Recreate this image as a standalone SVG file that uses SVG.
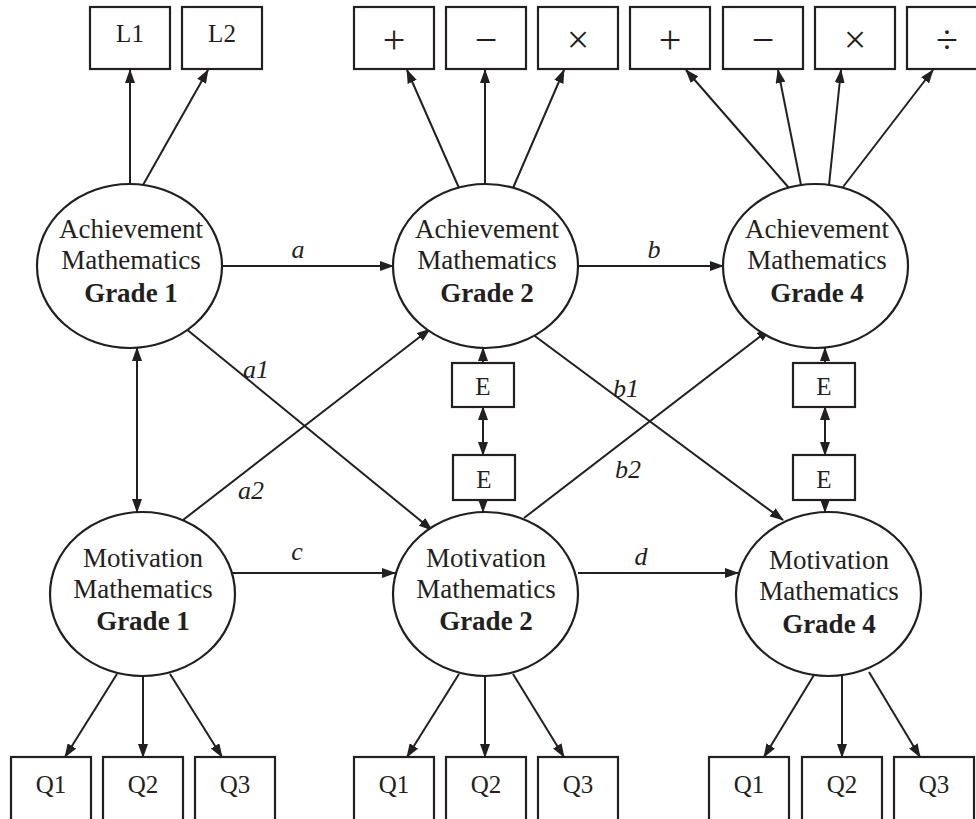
<svg xmlns="http://www.w3.org/2000/svg" width="976" height="819" viewBox="0 0 976 819">
<defs>
<style>
.box{fill:#fff;stroke:#231f20;stroke-width:2.2}
.ell{fill:#fff;stroke:#231f20;stroke-width:2.2}
.t{font-family:"Liberation Serif","Times New Roman",serif;font-size:27px;fill:#231f20;text-anchor:middle}
.b{font-weight:bold}
.bt{font-family:"Liberation Serif","Times New Roman",serif;font-size:25px;fill:#231f20;text-anchor:middle}
.sym{font-family:"Liberation Serif","Times New Roman",serif;font-size:40px;fill:#231f20;text-anchor:middle}
.lab{font-family:"Liberation Serif","Times New Roman",serif;font-size:26px;font-style:italic;fill:#231f20;text-anchor:middle}
.c line{stroke:#231f20;stroke-width:2;marker-end:url(#ah)}
.c line.dbl{marker-start:url(#ah)}
</style>
<marker id="ah" markerWidth="14" markerHeight="10" refX="13" refY="5" orient="auto-start-reverse" markerUnits="userSpaceOnUse">
<path d="M0,0 L14,5 L0,10 z" fill="#231f20"/>
</marker>
</defs>
<rect width="976" height="819" fill="#fff"/>

<g id="connectors" class="c">
<line x1="130" y1="184" x2="130" y2="70"/>
<line x1="143" y1="185" x2="208" y2="70"/>
<line x1="459" y1="188" x2="407" y2="70"/>
<line x1="485" y1="184" x2="485" y2="70"/>
<line x1="513" y1="188" x2="564" y2="70"/>
<line x1="789" y1="188" x2="686" y2="70"/>
<line x1="801" y1="185" x2="778" y2="70"/>
<line x1="829" y1="185" x2="841" y2="70"/>
<line x1="843" y1="187" x2="933" y2="70"/>
<line x1="222" y1="266" x2="393" y2="266"/>
<line x1="578" y1="266" x2="723" y2="266"/>
<line x1="232" y1="573" x2="395" y2="573"/>
<line x1="578" y1="573" x2="738" y2="573"/>
<line class="dbl" x1="137" y1="348" x2="137" y2="512"/>
<line x1="185" y1="328" x2="432" y2="530"/>
<line x1="183" y1="520" x2="430" y2="329"/>
<line x1="524" y1="328" x2="783" y2="520"/>
<line x1="524" y1="518" x2="770" y2="329"/>
<line x1="483" y1="363" x2="483" y2="348"/>
<line class="dbl" x1="483" y1="407" x2="483" y2="455"/>
<line x1="483" y1="500" x2="483" y2="512"/>
<line x1="825" y1="363" x2="825" y2="348"/>
<line class="dbl" x1="825" y1="407" x2="825" y2="455"/>
<line x1="825" y1="500" x2="825" y2="512"/>
<line x1="117" y1="674" x2="65" y2="757"/>
<line x1="143" y1="676" x2="143" y2="757"/>
<line x1="170" y1="674" x2="222" y2="757"/>
<line x1="459" y1="674" x2="407" y2="757"/>
<line x1="485" y1="676" x2="485" y2="757"/>
<line x1="513" y1="674" x2="564" y2="757"/>
<line x1="814" y1="675" x2="764" y2="757"/>
<line x1="842" y1="676" x2="842" y2="757"/>
<line x1="869" y1="672" x2="920" y2="757"/>
</g>

<g id="labels">
<text class="lab" x="298" y="258">a</text>
<text class="lab" x="654" y="258">b</text>
<text class="lab" x="297" y="560">c</text>
<text class="lab" x="641" y="565">d</text>
<text class="lab" x="256" y="378">a1</text>
<text class="lab" x="251" y="499">a2</text>
<text class="lab" x="626" y="397">b1</text>
<text class="lab" x="628" y="478">b2</text>
</g>

<g id="L1"><rect class="box" x="90" y="7" width="80" height="62"/><text class="bt" x="130" y="42">L1</text></g>
<g id="L2"><rect class="box" x="182" y="7" width="80" height="62"/><text class="bt" x="222" y="42">L2</text></g>
<g id="plus2"><rect class="box" x="354" y="7" width="80" height="62"/><text class="sym" x="394" y="53">+</text></g>
<g id="minus2"><rect class="box" x="446" y="7" width="80" height="62"/><text class="sym" x="486" y="53">−</text></g>
<g id="times2"><rect class="box" x="538" y="7" width="80" height="62"/><text class="sym" x="578" y="53">×</text></g>
<g id="plus4"><rect class="box" x="630" y="7" width="80" height="62"/><text class="sym" x="670" y="53">+</text></g>
<g id="minus4"><rect class="box" x="723" y="7" width="80" height="62"/><text class="sym" x="763" y="53">−</text></g>
<g id="times4"><rect class="box" x="815" y="7" width="80" height="62"/><text class="sym" x="855" y="53">×</text></g>
<g id="div4"><rect class="box" x="907" y="7" width="80" height="62"/><text class="sym" x="947" y="53">÷</text></g>

<g id="ach1"><ellipse class="ell" cx="129.5" cy="266" rx="92.5" ry="82"/>
<text class="t" x="131" y="238">Achievement</text><text class="t" x="131" y="269">Mathematics</text><text class="t b" x="131" y="302">Grade 1</text></g>
<g id="ach2"><ellipse class="ell" cx="485.5" cy="266" rx="92.5" ry="82"/>
<text class="t" x="487" y="238">Achievement</text><text class="t" x="487" y="269">Mathematics</text><text class="t b" x="487" y="302">Grade 2</text></g>
<g id="ach4"><ellipse class="ell" cx="815.5" cy="266" rx="92.5" ry="82"/>
<text class="t" x="817" y="238">Achievement</text><text class="t" x="817" y="269">Mathematics</text><text class="t b" x="817" y="302">Grade 4</text></g>

<g id="mot1"><ellipse class="ell" cx="142.5" cy="594" rx="92.5" ry="82"/>
<text class="t" x="143" y="567">Motivation</text><text class="t" x="143" y="598">Mathematics</text><text class="t b" x="143" y="630">Grade 1</text></g>
<g id="mot2"><ellipse class="ell" cx="485.5" cy="594" rx="92.5" ry="82"/>
<text class="t" x="486" y="567">Motivation</text><text class="t" x="486" y="598">Mathematics</text><text class="t b" x="486" y="630">Grade 2</text></g>
<g id="mot4"><ellipse class="ell" cx="828.5" cy="594" rx="92.5" ry="82"/>
<text class="t" x="829" y="569">Motivation</text><text class="t" x="829" y="600">Mathematics</text><text class="t b" x="829" y="633">Grade 4</text></g>

<g id="E2a"><rect class="box" x="452" y="363" width="62" height="44"/><text class="bt" x="483" y="395">E</text></g>
<g id="E2b"><rect class="box" x="453" y="455" width="62" height="45"/><text class="bt" x="484" y="488">E</text></g>
<g id="E4a"><rect class="box" x="793" y="363" width="62" height="44"/><text class="bt" x="824" y="395">E</text></g>
<g id="E4b"><rect class="box" x="793" y="455" width="62" height="45"/><text class="bt" x="824" y="488">E</text></g>

<g id="Q1a"><rect class="box" x="11" y="757" width="80" height="66"/><text class="bt" x="51" y="793">Q1</text></g>
<g id="Q2a"><rect class="box" x="103" y="757" width="80" height="66"/><text class="bt" x="143" y="793">Q2</text></g>
<g id="Q3a"><rect class="box" x="195" y="757" width="80" height="66"/><text class="bt" x="235" y="793">Q3</text></g>
<g id="Q1b"><rect class="box" x="354" y="757" width="80" height="66"/><text class="bt" x="394" y="793">Q1</text></g>
<g id="Q2b"><rect class="box" x="446" y="757" width="80" height="66"/><text class="bt" x="486" y="793">Q2</text></g>
<g id="Q3b"><rect class="box" x="538" y="757" width="80" height="66"/><text class="bt" x="578" y="793">Q3</text></g>
<g id="Q1c"><rect class="box" x="709" y="757" width="80" height="66"/><text class="bt" x="749" y="793">Q1</text></g>
<g id="Q2c"><rect class="box" x="802" y="757" width="80" height="66"/><text class="bt" x="842" y="793">Q2</text></g>
<g id="Q3c"><rect class="box" x="894" y="757" width="80" height="66"/><text class="bt" x="934" y="793">Q3</text></g>
</svg>
